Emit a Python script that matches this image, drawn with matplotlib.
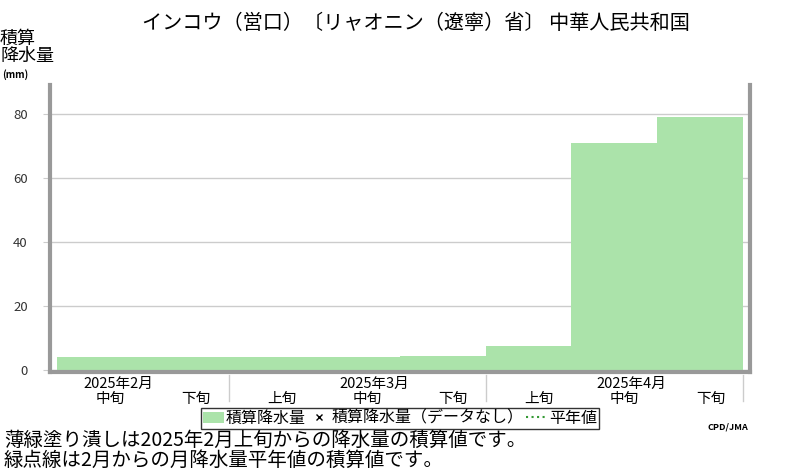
import matplotlib
matplotlib.use("Agg")
import matplotlib.pyplot as plt
from matplotlib.patches import Patch
from matplotlib.lines import Line2D

plt.rcParams['font.family'] = ['Noto Sans CJK JP', 'DejaVu Sans']

# 旬ごとの積算降水量 (mm), 2025年2月中旬〜4月下旬
dekads = ['中旬', '下旬', '上旬', '中旬', '下旬', '上旬', '中旬', '下旬']
months = ['2025年2月', '2025年3月', '2025年4月']
month_pos = [0.72, 3.7, 6.7]
accum_precip = [4.0, 4.0, 4.0, 4.0, 4.4, 7.5, 70.9, 79.1]
yticks = [0, 20, 40, 60, 80]

bar_color = '#abe3aa'
frame_color = '#999999'

fig = plt.figure(figsize=(8, 4.7), dpi=100)
ax = fig.add_axes([0.0625, 0.2085, 0.875, 0.6105])

x = list(range(len(accum_precip)))
ax.bar(x, accum_precip, width=1.0, align='edge', color=bar_color, linewidth=0, zorder=2)

ax.set_xlim(-0.082, len(accum_precip) + 0.082)
ax.set_ylim(-0.6, 89.1)

# grid
ax.set_yticks(yticks)
ax.set_yticklabels([str(v) for v in yticks], fontsize=9.5, color='#333333')
ax.tick_params(axis='y', length=5, color='#cccccc', pad=11)
ax.yaxis.grid(True, color='#cccccc', linewidth=1, zorder=1)
ax.set_xticks([])

for side in ['left', 'right', 'bottom']:
    ax.spines[side].set_color(frame_color)
    ax.spines[side].set_linewidth(3)
ax.spines['top'].set_visible(False)

# x labels
for i, d in enumerate(dekads):
    ax.text(i + 0.62, -0.095, d, transform=ax.get_xaxis_transform(),
            ha='center', va='center', fontsize=10.5)
for m, p in zip(months, month_pos):
    ax.text(p, -0.043, m, transform=ax.get_xaxis_transform(),
            ha='center', va='center', fontsize=10.5)
for b in [2, 5, 8]:
    ax.plot([b, b], [-0.01, -0.1], transform=ax.get_xaxis_transform(),
            color='#cccccc', linewidth=1, clip_on=False)

# title and y label
fig.text(0.52, 0.95, 'インコウ（営口）〔リャオニン（遼寧）省〕 中華人民共和国',
         ha='center', va='center', fontsize=14.5)
fig.text(0.0, 0.936, '積算\n降水量', ha='left', va='top', fontsize=13,
         linespacing=0.95)
fig.text(0.003, 0.842, '(mm)', ha='left', va='center', fontsize=7, fontweight='bold')

# legend
handles = [
    Patch(facecolor=bar_color, edgecolor='none', label='積算降水量'),
    Line2D([], [], marker='x', color='black', linestyle='none', markersize=4,
           label='積算降水量（データなし）'),
    Line2D([], [], color='#339933', linestyle=':', linewidth=1.5, label='平年値'),
]
leg = fig.legend(handles=handles, loc='center', bbox_to_anchor=(0.5, 0.11), ncol=3,
                 fontsize=11.5, frameon=True, fancybox=False, edgecolor='black',
                 handlelength=1.3, handletextpad=0.15, columnspacing=0.15,
                 borderpad=0.12, borderaxespad=0)
leg.get_frame().set_linewidth(1)

fig.text(0.935, 0.092, 'CPD/JMA', ha='right', va='center', fontsize=6.5, fontweight='bold')

fig.text(0.005, 0.062, '薄緑塗り潰しは2025年2月上旬からの降水量の積算値です。',
         ha='left', va='center', fontsize=14)
fig.text(0.005, 0.02, '緑点線は2月からの月降水量平年値の積算値です。',
         ha='left', va='center', fontsize=14)

fig.savefig('out.png', dpi=100)
